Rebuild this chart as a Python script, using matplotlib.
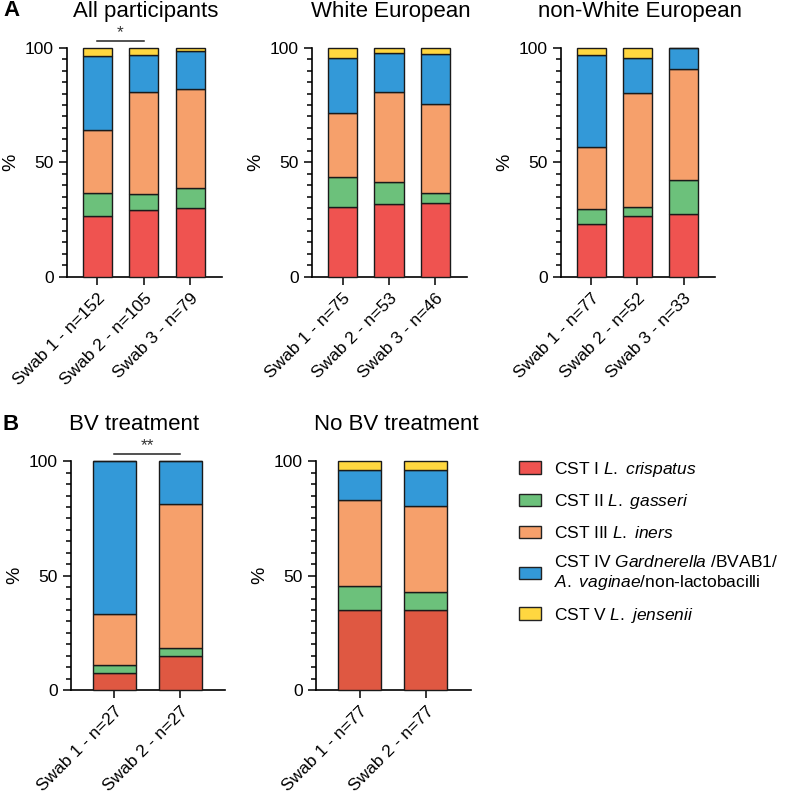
import matplotlib
matplotlib.use('Agg')
from matplotlib import pyplot as plt
from matplotlib.patches import Patch
from matplotlib.ticker import MultipleLocator
import numpy as np

plt.rcParams['font.family'] = ['Liberation Sans', 'DejaVu Sans']
plt.rcParams['mathtext.fontset'] = 'custom'
plt.rcParams['mathtext.rm'] = 'Liberation Sans'
plt.rcParams['mathtext.it'] = 'Liberation Sans:italic'

# CST categories (bottom to top)
cst_labels = [r'CST I $\mathit{L.\ crispatus}$',
              r'CST II $\mathit{L.\ gasseri}$',
              r'CST III $\mathit{L.\ iners}$',
              r'CST IV $\mathit{Gardnerella}$ /BVAB1/' + '\n' + r'$\mathit{A.\ vaginae}$/non-lactobacilli',
              r'CST V $\mathit{L.\ jensenii}$']
colors_a = ['#EF5350', '#6CC17B', '#F6A06B', '#3399D8', '#FFD740']
colors_b = ['#DF5842', '#6CC17B', '#F6A06B', '#3399D8', '#FFD740']

# percentages per swab: [CST I, II, III, IV, V]
all_labels = ['Swab 1 - n=152', 'Swab 2 - n=105', 'Swab 3 - n=79']
all_vals = [[26.6, 10.1, 27.5, 32.0, 3.8],
            [29.1, 6.9, 44.8, 16.0, 3.2],
            [30.0, 8.9, 43.0, 16.5, 1.6]]

white_labels = ['Swab 1 - n=75', 'Swab 2 - n=53', 'Swab 3 - n=46']
white_vals = [[30.5, 13.2, 27.9, 24.0, 4.4],
              [31.8, 9.4, 39.6, 16.9, 2.3],
              [32.4, 4.3, 38.9, 21.6, 2.8]]

nonwhite_labels = ['Swab 1 - n=77', 'Swab 2 - n=52', 'Swab 3 - n=33']
nonwhite_vals = [[22.9, 6.6, 27.2, 40.1, 3.2],
                 [26.4, 3.9, 49.8, 15.4, 4.5],
                 [27.3, 15.1, 48.5, 9.1, 0.0]]

bv_labels = ['Swab 1 - n=27', 'Swab 2 - n=27']
bv_vals = [[7.4, 3.7, 22.2, 66.7, 0.0],
           [14.8, 3.7, 63.0, 18.5, 0.0]]

nobv_labels = ['Swab 1 - n=77', 'Swab 2 - n=77']
nobv_vals = [[35.1, 10.4, 37.6, 13.0, 3.9],
             [35.1, 7.8, 37.6, 15.6, 3.9]]

W, H = 787, 793
fig = plt.figure(figsize=(W / 100, H / 100), dpi=100)


def add_ax(left, right, top, bottom):
    return fig.add_axes([left / W, 1 - bottom / H, (right - left) / W, (bottom - top) / H])


def stacked(ax, labels, vals, colors, width, xmax):
    vals = np.array(vals)
    x = np.arange(len(labels))
    base = np.zeros(len(labels))
    for k in range(vals.shape[1]):
        ax.bar(x, vals[:, k], width, bottom=base, color=colors[k],
               edgecolor='#1a1a1a', linewidth=1.0, clip_on=False, zorder=3)
        base += vals[:, k]
    ax.set_xlim(-0.66, xmax)
    ax.set_ylim(0, 100)
    ax.set_xticks(x)
    ax.set_xticklabels(labels, rotation=45, ha='right', rotation_mode='anchor', fontsize=12.5)
    ax.yaxis.set_major_locator(MultipleLocator(50))
    ax.yaxis.set_minor_locator(MultipleLocator(5))
    ax.tick_params(axis='y', which='major', length=6, width=1.1, labelsize=12.5)
    ax.tick_params(axis='y', which='minor', length=3.5, width=1.1)
    ax.tick_params(axis='x', length=6, width=1.1, pad=4)
    for s in ['top', 'right']:
        ax.spines[s].set_visible(False)
    for s in ['left', 'bottom']:
        ax.spines[s].set_linewidth(1.2)
    ax.set_ylabel('%', fontsize=14, labelpad=4)


ax1 = add_ax(66.7, 221.7, 47.7, 276.7)
stacked(ax1, all_labels, all_vals, colors_a, 0.63, 2.68)
ax2 = add_ax(312.3, 466.7, 47.7, 276.7)
stacked(ax2, white_labels, white_vals, colors_a, 0.63, 2.68)
ax3 = add_ax(560.7, 715, 47.7, 276.7)
stacked(ax3, nonwhite_labels, nonwhite_vals, colors_a, 0.63, 2.68)
ax4 = add_ax(70.7, 225, 461.3, 690)
stacked(ax4, bv_labels, bv_vals, colors_b, 0.65, 1.68)
ax5 = add_ax(316, 471, 461.3, 690)
stacked(ax5, nobv_labels, nobv_vals, colors_b, 0.65, 1.68)

# titles
fig.text(146 / W, 1 - 17 / H, 'All participants', ha='center', va='baseline', fontsize=16)
fig.text(391 / W, 1 - 17 / H, 'White European', ha='center', va='baseline', fontsize=16)
fig.text(640 / W, 1 - 17 / H, 'non-White European', ha='center', va='baseline', fontsize=16)
fig.text(134 / W, 1 - 430 / H, 'BV treatment', ha='center', va='baseline', fontsize=16)
fig.text(396 / W, 1 - 430 / H, 'No BV treatment', ha='center', va='baseline', fontsize=16)
fig.text(3 / W, 1 - 16 / H, 'A', fontweight='bold', fontsize=16, va='baseline')
fig.text(3 / W, 1 - 430 / H, 'B', fontweight='bold', fontsize=16, va='baseline')

# significance brackets
for ax, x0, x1, y, star in [(ax1, 0, 1, 103, '*'), (ax4, 0, 1, 103, '**')]:
    ax.plot([x0, x1], [y, y], color='#222222', lw=1.1, clip_on=False)
    ax.text((x0 + x1) / 2, y + 0.5, star, ha='center', va='bottom', fontsize=12.5, color='#333333')

handles = [Patch(facecolor=c, edgecolor='#222222', linewidth=1.0) for c in colors_a]
fig.legend(handles, cst_labels, loc='upper left', bbox_to_anchor=(503 / W, 1 - 444 / H),
           frameon=False, fontsize=12.5, handlelength=1.3, handleheight=0.7,
           handletextpad=0.75, labelspacing=0.78)

fig.savefig('out.png', dpi=100)
